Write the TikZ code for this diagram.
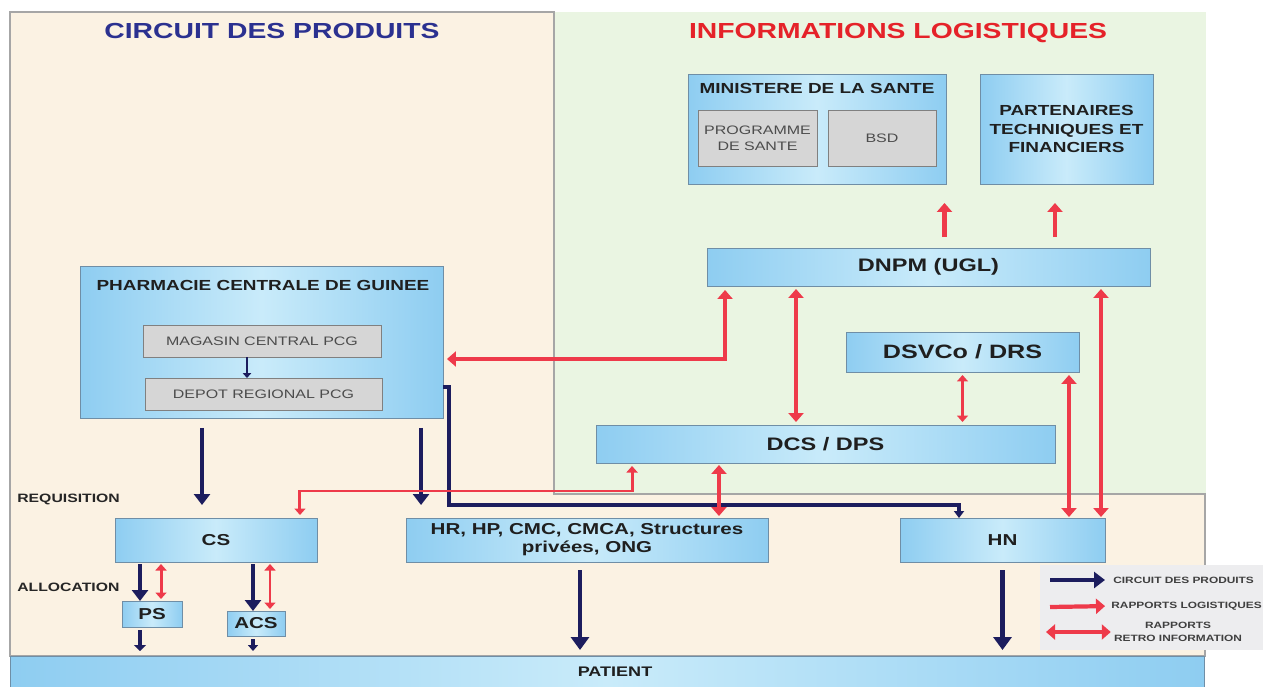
\documentclass[tikz,border=0pt]{standalone}
\usepackage{fontspec}
\setmainfont{Liberation Sans}[FakeStretch=1.3]
\usetikzlibrary{arrows.meta}
\definecolor{navy}{HTML}{1C1D5E}
\definecolor{redline}{HTML}{EE3A4A}
\definecolor{beigebg}{HTML}{FBF2E3}
\definecolor{greenbg}{HTML}{EAF5E2}
\definecolor{boxedge}{HTML}{8ECDF1}
\definecolor{boxmid}{HTML}{C9EBFA}
\definecolor{boxline}{HTML}{6F8EA6}
\definecolor{titleblue}{HTML}{2B3190}
\definecolor{titlered}{HTML}{E52229}
\definecolor{legendbg}{HTML}{EDEDEF}

\begin{document}
\begin{tikzpicture}[x=0.02cm,y=-0.02cm]
	\tikzstyle{unit}=[draw=boxline,line width=0.5pt,left color=boxedge,right color=boxedge,middle color=boxmid,inner sep=0pt,outer sep=0pt,text=black!88,align=center,font=\bfseries\fontsize{9}{10.3}\selectfont]
	\tikzstyle{store}=[draw=gray,line width=0.5pt,fill=gray!32,inner sep=0pt,outer sep=0pt,text=black!70,align=center,font=\fontsize{7}{9}\selectfont]
	\tikzstyle{head}=[font=\bfseries\fontsize{12.4}{14}\selectfont]
	\tikzstyle{boxhead}=[text=black!88,align=center,font=\bfseries\fontsize{8.3}{10.8}\selectfont]
	\tikzstyle{big}=[font=\bfseries\fontsize{10.3}{12}\selectfont]
	\tikzstyle{side}=[text=black!85,inner sep=0pt,font=\bfseries\fontsize{6.9}{8}\selectfont]
	\tikzstyle{key}=[text=black!75,inner sep=0pt,align=center,font=\bfseries\fontsize{5.2}{7.4}\selectfont]
	\tikzstyle{flow}=[draw=navy,line width=2.8pt,-{Triangle[length=0.22cm,width=0.32cm]}]
	\tikzstyle{report}=[draw=redline,line width=2.4pt,-{Triangle[length=0.18cm,width=0.3cm]}]
	\tikzstyle{feedback}=[draw=redline,line width=2.4pt,{Triangle[length=0.18cm,width=0.3cm]}-{Triangle[length=0.18cm,width=0.3cm]}]
	\tikzstyle{slim}=[line width=1.7pt,{Triangle[length=0.13cm,width=0.22cm]}-{Triangle[length=0.13cm,width=0.22cm]}]
	
	\fill[white] (0,0) rectangle (1263,686);
	\useasboundingbox (0,0) rectangle (1263,686);
	\fill[greenbg] (554,12) rectangle (1206,494);
	\filldraw[fill=beigebg,draw=gray!70,line width=0.6pt] (10,12) -- (554,12) -- (554,494) -- (1205,494) -- (1205,656) -- (10,656) -- cycle;
	
	\node[head,text=titleblue] at (272,31) (prodtitle) {CIRCUIT DES PRODUITS};
	\node[head,text=titlered] at (898,33) (infotitle) {INFORMATIONS LOGISTIQUES};
	
	\node[unit,minimum width=5.16cm,minimum height=2.2cm] at (817,129) (ms) {};
	\node[boxhead] at (817,88) (mstitle) {MINISTERE DE LA SANTE};
	\node[store,minimum width=2.38cm,minimum height=1.12cm] at (757.5,138) (prog) {PROGRAMME\\DE SANTE};
	\node[store,minimum width=2.16cm,minimum height=1.12cm] at (882,138) (bsd) {BSD};
	\node[unit,boxhead,minimum width=3.46cm,minimum height=2.2cm] at (1066.5,129) (ptf) {PARTENAIRES\\TECHNIQUES ET\\FINANCIERS};
	
	\node[unit,big,minimum width=8.86cm,minimum height=0.76cm] at (928.5,267) (dnpm) {DNPM (UGL)};
	\node[unit,big,font=\bfseries\fontsize{11}{12}\selectfont,minimum width=4.66cm,minimum height=0.8cm] at (962.5,352) (dsvco) {DSVCo / DRS};
	\node[unit,big,minimum width=9.18cm,minimum height=0.76cm] at (825.5,444) (dcs) {DCS / DPS};
	
	\node[unit,minimum width=7.26cm,minimum height=3.04cm] at (261.5,342) (pcg) {};
	\node[boxhead] at (263,285) (pcgtitle) {PHARMACIE CENTRALE DE GUINEE};
	\node[store,minimum width=4.76cm,minimum height=0.64cm] at (262,341) (mag) {MAGASIN CENTRAL PCG};
	\node[store,minimum width=4.74cm,minimum height=0.64cm] at (263.5,394) (dep) {DEPOT REGIONAL PCG};
	
	\node[unit,minimum width=4.04cm,minimum height=0.88cm] at (216,540) (cs) {CS};
	\node[unit,minimum width=7.24cm,minimum height=0.88cm] at (587,540) (hr) {HR, HP, CMC, CMCA, Structures\\privées, ONG};
	\node[unit,minimum width=4.1cm,minimum height=0.88cm] at (1002.5,540) (hn) {HN};
	\node[unit,minimum width=1.2cm,minimum height=0.52cm] at (152,614) (ps) {PS};
	\node[unit,minimum width=1.16cm,minimum height=0.5cm] at (256,623.5) (acs) {ACS};
	\node[unit,font=\bfseries\fontsize{7.9}{9}\selectfont,minimum width=23.9cm,minimum height=0.64cm] at (607.5,672) (patient) {\hspace*{0.3cm}PATIENT};
	
	\node[side,anchor=west] at (17,499) (req) {REQUISITION};
	\node[side,anchor=west] at (17,587) (alloc) {ALLOCATION};
	
	% circuit des produits
	\draw[flow,line width=1.6pt,-{Triangle[length=0.1cm,width=0.17cm]}] ([xshift=-0.3cm]mag.south) -- ([xshift=-0.3cm]mag.south |- dep.north);
	\draw[flow,shorten <=0.2cm,shorten >=0.26cm] ([xshift=-0.28cm]cs.north |- pcg.south) -- ([xshift=-0.28cm]cs.north);
	\draw[flow,shorten <=0.2cm,shorten >=0.26cm] ([xshift=-3.32cm]hr.north |- pcg.south) -- ([xshift=-3.32cm]hr.north);
	\draw[flow,-{Triangle[length=0.14cm,width=0.2cm]}] ([yshift=-0.9cm]pcg.east) -- ++(0.12cm,0) |- ([xshift=-0.87cm,yshift=0.26cm]hn.north) -- ([xshift=-0.87cm]hn.north);
	\draw[flow,shorten <=0.04cm] ([xshift=-1.52cm]cs.south) -- ([xshift=-1.52cm]cs.south |- ps.north);
	\draw[flow,shorten <=0.04cm] ([xshift=0.74cm]cs.south) -- ([xshift=0.74cm]cs.south |- acs.north);
	\draw[flow,shorten <=0.06cm,shorten >=0.1cm,-{Triangle[length=0.12cm,width=0.24cm]}] ([xshift=-0.24cm]ps.south) -- ([xshift=-0.24cm]ps.south |- patient.north);
	\draw[flow,shorten <=0.06cm,shorten >=0.1cm,-{Triangle[length=0.12cm,width=0.2cm]}] ([xshift=-0.06cm]acs.south) -- ([xshift=-0.06cm]acs.south |- patient.north);
	\draw[flow,shorten <=0.16cm,shorten >=0.12cm,-{Triangle[length=0.26cm,width=0.36cm]}] ([xshift=-0.14cm]hr.south) -- ([xshift=-0.14cm]hr.south |- patient.north);
	\draw[flow,shorten <=0.16cm,shorten >=0.12cm,-{Triangle[length=0.26cm,width=0.36cm]}] (hn.south) -- (hn.south |- patient.north);
	
	% informations logistiques
	\draw[report,shorten <=0.22cm,shorten >=0.38cm] ([xshift=0.32cm]dnpm.north) -- ([xshift=0.32cm]dnpm.north |- ms.south);
	\draw[report,shorten <=0.22cm,shorten >=0.38cm] ([xshift=2.53cm]dnpm.north) -- ([xshift=2.53cm]dnpm.north |- ptf.south);
	\draw[feedback,shorten <=0.08cm,shorten >=0.08cm] ([yshift=-0.34cm]pcg.east) -| ([xshift=-4.07cm]dnpm.south);
	\draw[feedback,shorten <=0.06cm,shorten >=0.06cm] ([xshift=-0.59cm]dcs.north) -- ([xshift=-0.59cm]dcs.north |- dnpm.south);
	\draw[feedback,slim,shorten <=0.06cm,shorten >=0.06cm] (dsvco.south) -- (dsvco.south |- dcs.north);
	\draw[feedback,shorten <=0.02cm,shorten >=0.06cm] ([xshift=1.33cm]hn.north) -- ([xshift=1.33cm]hn.north |- dsvco.south);
	\draw[feedback,shorten <=0.02cm,shorten >=0.06cm] ([xshift=1.97cm]hn.north) -- ([xshift=1.97cm]hn.north |- dnpm.south);
	\draw[feedback,shorten <=0.04cm,shorten >=0.04cm] ([xshift=2.64cm]hr.north) -- ([xshift=2.64cm]hr.north |- dcs.south);
	\draw[feedback,slim,shorten <=0.06cm,shorten >=0.06cm] ([xshift=-3.87cm]dcs.south) -- ++(0,-0.56cm) -| ([xshift=1.68cm]cs.north);
	\draw[feedback,slim,shorten <=0.04cm,shorten >=0.04cm] ([xshift=-1.1cm]cs.south) -- ([xshift=-1.1cm]cs.south |- ps.north);
	\draw[feedback,slim,shorten <=0.04cm,shorten >=0.04cm] ([xshift=1.08cm]cs.south) -- ([xshift=1.08cm]cs.south |- acs.north);
	
	% legende
	\node[fill=legendbg,minimum width=4.46cm,minimum height=1.7cm,inner sep=0pt] at (1151.5,607.5) (legend) {};
	\node[key,anchor=west] at (1113,580) (kprod) {CIRCUIT DES PRODUITS};
	\node[key,anchor=west] at (1111,606) (krep) {RAPPORTS LOGISTIQUES};
	\node[key] at (1178,632) (kretro) {RAPPORTS\\RETRO INFORMATION};
	\coordinate (kp) at (1050,580);
	\coordinate (kr) at (1050,607);
	\coordinate (kf) at (1046,632);
	\draw[flow,shorten >=0.16cm] (kp) -- (kprod.west);
	\draw[report,shorten >=0.12cm] (kr) -- (krep.west);
	\draw[feedback,shorten >=0.06cm] (kf) -- (kretro.west);
\end{tikzpicture}
\end{document}
